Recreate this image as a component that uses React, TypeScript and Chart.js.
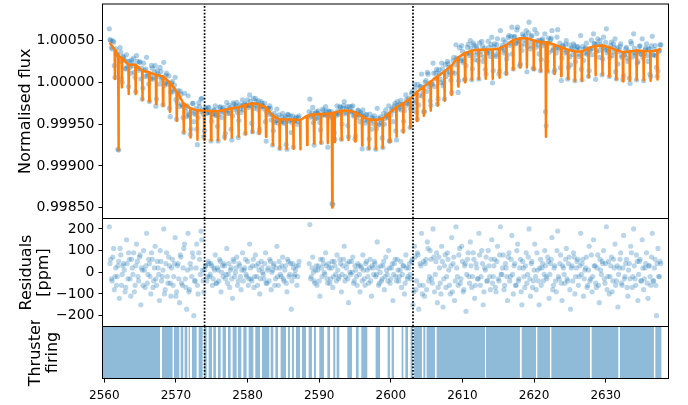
import React, { useEffect, useRef } from 'react';
import { Chart, registerables } from 'chart.js';
Chart.register(...registerables);

const FONT = "'DejaVu Sans', sans-serif";

// ---- axes / ticks ----
const X_MIN = 2559.75;
const X_MAX = 2638.77;
const xTicks = [2560, 2570, 2580, 2590, 2600, 2610, 2620, 2630];
const FLUX_MIN = 0.998372;
const FLUX_MAX = 1.000937;
const fluxTicks = [0.9985, 0.999, 0.9995, 1.0, 1.0005];
const RES_MIN = -250;
const RES_MAX = 248;
const residTicks = [-200, -100, 0, 100, 200];
const markerTimes = [2574.0, 2603.1];

// ---- observations, batch A (time in days, flux deviation and residuals in ppm) ----
const obsTimeA = [
  2560.7, 2560.9, 2561.1, 2561.3, 2561.5, 2561.7, 2561.9, 2562.1, 2562.3, 2562.5,
  2562.7, 2562.9, 2563.1, 2563.3, 2563.5, 2563.7, 2563.9, 2564.1, 2564.3, 2564.5,
  2564.7, 2564.9, 2565.1, 2565.3, 2565.5, 2565.7, 2565.9, 2566.1, 2566.3, 2566.5,
  2566.7, 2566.9, 2567.1, 2567.3, 2567.5, 2567.7, 2567.9, 2568.1, 2568.3, 2568.5,
  2568.7, 2568.9, 2569.1, 2569.3, 2569.5, 2569.7, 2569.9, 2570.1, 2570.3, 2570.5,
  2570.7, 2570.9, 2571.1, 2571.3, 2571.5, 2571.7, 2571.9, 2572.1, 2572.3, 2572.5,
  2572.7, 2572.9, 2573.1, 2573.3, 2573.5, 2573.7, 2573.9, 2574.1, 2574.3, 2574.5,
  2574.7, 2574.9, 2575.1, 2575.3, 2575.5, 2575.7, 2575.9, 2576.1, 2576.3, 2576.5,
  2576.7, 2576.9, 2577.1, 2577.3, 2577.5, 2577.7, 2577.9, 2578.1, 2578.3, 2578.5,
  2578.7, 2578.9, 2579.1, 2579.3, 2579.5, 2579.7, 2579.9, 2580.1, 2580.3, 2580.5,
  2580.7, 2580.9, 2581.1, 2581.3, 2581.5, 2581.7, 2581.9, 2582.1, 2582.3, 2582.5,
  2582.7, 2582.9, 2583.1, 2583.3, 2583.5, 2583.7, 2583.9, 2584.1, 2584.3, 2584.5,
  2584.7, 2584.9, 2585.1, 2585.3, 2585.5, 2585.7, 2585.9, 2586.1, 2586.3, 2586.5,
  2586.7, 2586.9, 2587.1, 2587.3, 2587.5, 2587.7, 2587.9, 2588.1, 2588.3, 2588.5,
  2588.7, 2588.9, 2589.1, 2589.3, 2589.5, 2589.7, 2589.9, 2590.1, 2590.3, 2590.5,
  2590.7, 2590.9, 2591.1, 2591.3, 2591.5, 2591.7, 2591.9, 2592.1, 2592.3, 2592.5,
  2592.7, 2592.9, 2593.1, 2593.3, 2593.5, 2593.7, 2593.9, 2594.1, 2594.3, 2594.5,
  2594.7, 2594.9, 2595.1, 2595.3, 2595.5, 2595.7, 2595.9, 2596.1, 2596.3, 2596.5,
  2596.7, 2596.9, 2597.1, 2597.3, 2597.5, 2597.7, 2597.9, 2598.1, 2598.3, 2598.5,
  2598.7, 2598.9, 2599.1, 2599.3, 2599.5, 2599.7, 2599.9, 2600.1, 2600.3, 2600.5,
  2600.7, 2600.9, 2601.1, 2601.3, 2601.5, 2601.7, 2601.9, 2602.1, 2602.3, 2602.5,
  2602.7, 2602.9, 2603.1, 2603.3, 2603.5, 2603.7, 2603.9, 2604.1, 2604.3, 2604.5,
  2604.7, 2604.9, 2605.1, 2605.3, 2605.5, 2605.7, 2605.9, 2606.1, 2606.3, 2606.5,
  2606.7, 2606.9, 2607.1, 2607.3, 2607.5, 2607.7, 2607.9, 2608.1, 2608.3, 2608.5,
  2608.7, 2608.9, 2609.1, 2609.3, 2609.5, 2609.7, 2609.9, 2610.1, 2610.3, 2610.5,
  2610.7, 2610.9, 2611.1, 2611.3, 2611.5, 2611.7, 2611.9, 2612.1, 2612.3, 2612.5,
  2612.7, 2612.9, 2613.1, 2613.3, 2613.5, 2613.7, 2613.9, 2614.1, 2614.3, 2614.5,
  2614.7, 2614.9, 2615.1, 2615.3, 2615.5, 2615.7, 2615.9, 2616.1, 2616.3, 2616.5,
  2616.7, 2616.9, 2617.1, 2617.3, 2617.5, 2617.7, 2617.9, 2618.1, 2618.3, 2618.5,
  2618.7, 2618.9, 2619.1, 2619.3, 2619.5, 2619.7, 2619.9, 2620.1, 2620.3, 2620.5,
  2620.7, 2620.9, 2621.1, 2621.3, 2621.5, 2621.7, 2621.9, 2622.1, 2622.3, 2622.5,
  2622.7, 2622.9, 2623.1, 2623.3, 2623.5, 2623.7, 2623.9, 2624.1, 2624.3, 2624.5,
  2624.7, 2624.9, 2625.1, 2625.3, 2625.5, 2625.7, 2625.9, 2626.1, 2626.3, 2626.5,
  2626.7, 2626.9, 2627.1, 2627.3, 2627.5, 2627.7, 2627.9, 2628.1, 2628.3, 2628.5,
  2628.7, 2628.9, 2629.1, 2629.3, 2629.5, 2629.7, 2629.9, 2630.1, 2630.3, 2630.5,
  2630.7, 2630.9, 2631.1, 2631.3, 2631.5, 2631.7, 2631.9, 2632.1, 2632.3, 2632.5,
  2632.7, 2632.9, 2633.1, 2633.3, 2633.5, 2633.7, 2633.9, 2634.1, 2634.3, 2634.5,
  2634.7, 2634.9, 2635.1, 2635.3, 2635.5, 2635.7, 2635.9, 2636.1, 2636.3, 2636.5,
  2636.7, 2636.9, 2637.1, 2637.3, 2637.5, 2637.7,
];

const obsFluxPpmA: (number | null)[] = [
  640, 500, 400, 480, 60, 330, -800, 250, 360, 0,
  300, 170, 330, 190, 250, 110, 240, 290, 60, 320,
  170, 240, 40, -200, 230, 70, 300, 110, -230, 40,
  170, 60, 200, -200, 100, -20, 130, 60, 240, -10,
  110, -20, -310, -120, 10, -80, 60, -440, -100, -290,
  -140, -280, -600, -300, -410, -160, -380, -560, -250, -470,
  -380, -560, -420, -290, -200, -330, -650, -310, -370, -300,
  -360, -700, -390, -330, -280, -390, -700, -300, -420, -320,
  -300, -610, -240, -330, -370, -560, -400, -260, -300, -240,
  -660, -270, -360, -210, -270, -610, -270, -300, -150, -280,
  -590, -310, -190, -270, -220, -560, -230, -280, -320, -470,
  -360, -310, -280, -450, -750, -370, -460, -320, -490, -790,
  -470, -370, -490, -410, -800, -390, -450, -600, -400, -460,
  -430, -500, -420, null, null, null, null, null, null, null,
  -200, -400, -300, -750, -370, -430, -340, -480, -720, -320,
  -380, -290, -400, -340, -420, -350, -1460, -600, -370, -280,
  -380, -290, -680, -310, -230, -360, -290, -650, -340, -290,
  -280, -390, -640, -420, -340, -470, -380, -330, -450, -390,
  -430, -790, -380, -560, -430, -400, -800, -310, -510, -440,
  -480, -780, -500, -330, -400, -280, -700, -330, -470, -280,
  -580, -230, -320, -260, -330, -580, -340, -150, -250, -190,
  -540, -130, -310, -20, -210, -440, -270, -50, 100, -110,
  -350, 20, 120, -50, -220, -10, 230, -50, 110, -260,
  150, 40, 230, -40, -200, 70, 250, 180, 90, -120,
  260, 110, 450, 260, 20, 260, 440, 240, 30, 200,
  420, 350, 500, 30, 470, 270, 430, 360, 40, 330,
  490, 250, 410, 100, 350, 420, 310, 540, 140, 460,
  310, 520, 100, 620, 410, 510, 380, 110, 330, 560,
  470, 660, 160, 550, 470, 660, 500, 220, 380, 550,
  460, 620, 430, 720, 400, 560, 170, 630, 420, 500,
  340, 140, 500, 440, 580, -520, 130, 360, 510, 620,
  400, 150, 350, 630, 400, 175, 290, 430, 350, 500,
  40, 450, 210, 410, 460, 20, 390, 430, 340, 560,
  30, 260, 400, 470, 350, 140, 400, 330, 580, 460,
  370, 520, 300, 450, 90, 540, 390, 640, 410, 70,
  440, 320, 460, 520, 40, 220, 390, 460, 300, 80,
  340, 420, 250, 50, 490, 300, 580, 350, 30, 250,
  430, 340, 520, 20, 390, 460, 250, 400, 70, 550,
  330, 440, 180, 135, 380, 450,
];

const obsResidPpmA: (number | null)[] = [
  210, 60, -40, 110, -20, -60, 30, -120, 80, -10,
  40, -90, 150, -30, 60, -110, 20, 90, -60, 130,
  -20, 70, -150, 10, 100, -70, 180, -10, 40, -100,
  60, -40, 120, -60, 20, -130, 50, -20, 200, -80,
  90, -50, 30, -110, 60, -20, 160, -90, 40, -140,
  70, -60, 110, -30, -170, 180, -80, 20, 90, -200,
  -40, 130, -100, 60, 190, 10, -90, 30, -40, 50,
  -20, 40, -60, 20, 80, -50, 10, 60, -90, 30,
  40, -30, 110, -10, -70, 20, -120, 50, 0, 70,
  -40, 30, -80, 90, 10, 60, -20, -60, 130, -30,
  30, -70, 80, -20, 40, -100, 50, 0, -30, 90,
  -50, 20, 60, -80, 10, 40, -30, 120, -60, 20,
  -20, 70, -40, 30, -90, 50, -10, -170, 40, -20,
  10, -60, 30, null, null, null, null, null, null, null,
  220, -20, 70, -40, 10, -60, 30, -110, 20, 60,
  0, 90, -30, 40, -50, 20, -70, 50, -10, 80,
  -30, 60, -90, 30, 120, -20, 40, -140, 0, 50,
  70, -40, 10, -60, 30, -90, 20, 80, -30, 40,
  10, -50, 60, -110, 20, 50, -20, 140, -60, 0,
  -40, 30, -80, 70, -10, 100, -50, 20, -130, 40,
  -20, 60, -40, 10, -70, 30, -100, 80, -30, 20,
  -10, 50, -150, 120, -80, 90, -170, 40, 180, -60,
  -110, 60, 140, -40, 100, -30, 200, -90, 50, -140,
  70, -50, 120, -160, 30, -70, 90, 10, -100, 160,
  40, -130, 210, -20, 80, -50, 120, -90, 30, -180,
  60, -20, 140, -70, 90, -120, 40, -30, 180, -60,
  100, -150, 20, 70, -40, 30, -80, 150, -20, 60,
  -90, 120, -40, 210, -10, 80, -60, 20, -130, 90,
  -20, 170, -100, 40, -60, 130, -30, 60, -150, 20,
  -70, 90, -10, 200, -110, 50, -40, 130, -80, 10,
  -150, 60, 20, -40, 100, -20, 70, -120, 40, 160,
  -60, 30, -90, 190, -30, 80, -130, 20, -50, 110,
  -40, 70, -170, 30, 90, -100, 20, 60, -20, 180,
  40, -110, 10, 70, -60, 120, -30, -90, 150, 30,
  -70, 80, -140, 10, 50, 100, -50, 210, -20, -100,
  30, -90, 60, 130, -40, -160, 20, 90, -60, 170,
  -20, 60, -110, 40, 120, -70, 200, -30, 80, -130,
  50, -40, 150, -80, 20, 90, -120, 30, -60, 180,
  -40, 60, -200, 110, -20, 40,
];

// ---- observations, batch B (interleaved cadence) ----
const obsTimeB = [
  2560.8, 2561.0, 2561.2, 2561.4, 2561.6, 2561.8, 2562.0, 2562.2, 2562.4, 2562.6,
  2562.8, 2563.0, 2563.2, 2563.4, 2563.6, 2563.8, 2564.0, 2564.2, 2564.4, 2564.6,
  2564.8, 2565.0, 2565.2, 2565.4, 2565.6, 2565.8, 2566.0, 2566.2, 2566.4, 2566.6,
  2566.8, 2567.0, 2567.2, 2567.4, 2567.6, 2567.8, 2568.0, 2568.2, 2568.4, 2568.6,
  2568.8, 2569.0, 2569.2, 2569.4, 2569.6, 2569.8, 2570.0, 2570.2, 2570.4, 2570.6,
  2570.8, 2571.0, 2571.2, 2571.4, 2571.6, 2571.8, 2572.0, 2572.2, 2572.4, 2572.6,
  2572.8, 2573.0, 2573.2, 2573.4, 2573.6, 2573.8, 2574.0, 2574.2, 2574.4, 2574.6,
  2574.8, 2575.0, 2575.2, 2575.4, 2575.6, 2575.8, 2576.0, 2576.2, 2576.4, 2576.6,
  2576.8, 2577.0, 2577.2, 2577.4, 2577.6, 2577.8, 2578.0, 2578.2, 2578.4, 2578.6,
  2578.8, 2579.0, 2579.2, 2579.4, 2579.6, 2579.8, 2580.0, 2580.2, 2580.4, 2580.6,
  2580.8, 2581.0, 2581.2, 2581.4, 2581.6, 2581.8, 2582.0, 2582.2, 2582.4, 2582.6,
  2582.8, 2583.0, 2583.2, 2583.4, 2583.6, 2583.8, 2584.0, 2584.2, 2584.4, 2584.6,
  2584.8, 2585.0, 2585.2, 2585.4, 2585.6, 2585.8, 2586.0, 2586.2, 2586.4, 2586.6,
  2586.8, 2587.0, 2587.2, 2587.4, 2587.6, 2587.8, 2588.0, 2588.2, 2588.4, 2588.6,
  2588.8, 2589.0, 2589.2, 2589.4, 2589.6, 2589.8, 2590.0, 2590.2, 2590.4, 2590.6,
  2590.8, 2591.0, 2591.2, 2591.4, 2591.6, 2591.8, 2592.0, 2592.2, 2592.4, 2592.6,
  2592.8, 2593.0, 2593.2, 2593.4, 2593.6, 2593.8, 2594.0, 2594.2, 2594.4, 2594.6,
  2594.8, 2595.0, 2595.2, 2595.4, 2595.6, 2595.8, 2596.0, 2596.2, 2596.4, 2596.6,
  2596.8, 2597.0, 2597.2, 2597.4, 2597.6, 2597.8, 2598.0, 2598.2, 2598.4, 2598.6,
  2598.8, 2599.0, 2599.2, 2599.4, 2599.6, 2599.8, 2600.0, 2600.2, 2600.4, 2600.6,
  2600.8, 2601.0, 2601.2, 2601.4, 2601.6, 2601.8, 2602.0, 2602.2, 2602.4, 2602.6,
  2602.8, 2603.0, 2603.2, 2603.4, 2603.6, 2603.8, 2604.0, 2604.2, 2604.4, 2604.6,
  2604.8, 2605.0, 2605.2, 2605.4, 2605.6, 2605.8, 2606.0, 2606.2, 2606.4, 2606.6,
  2606.8, 2607.0, 2607.2, 2607.4, 2607.6, 2607.8, 2608.0, 2608.2, 2608.4, 2608.6,
  2608.8, 2609.0, 2609.2, 2609.4, 2609.6, 2609.8, 2610.0, 2610.2, 2610.4, 2610.6,
  2610.8, 2611.0, 2611.2, 2611.4, 2611.6, 2611.8, 2612.0, 2612.2, 2612.4, 2612.6,
  2612.8, 2613.0, 2613.2, 2613.4, 2613.6, 2613.8, 2614.0, 2614.2, 2614.4, 2614.6,
  2614.8, 2615.0, 2615.2, 2615.4, 2615.6, 2615.8, 2616.0, 2616.2, 2616.4, 2616.6,
  2616.8, 2617.0, 2617.2, 2617.4, 2617.6, 2617.8, 2618.0, 2618.2, 2618.4, 2618.6,
  2618.8, 2619.0, 2619.2, 2619.4, 2619.6, 2619.8, 2620.0, 2620.2, 2620.4, 2620.6,
  2620.8, 2621.0, 2621.2, 2621.4, 2621.6, 2621.8, 2622.0, 2622.2, 2622.4, 2622.6,
  2622.8, 2623.0, 2623.2, 2623.4, 2623.6, 2623.8, 2624.0, 2624.2, 2624.4, 2624.6,
  2624.8, 2625.0, 2625.2, 2625.4, 2625.6, 2625.8, 2626.0, 2626.2, 2626.4, 2626.6,
  2626.8, 2627.0, 2627.2, 2627.4, 2627.6, 2627.8, 2628.0, 2628.2, 2628.4, 2628.6,
  2628.8, 2629.0, 2629.2, 2629.4, 2629.6, 2629.8, 2630.0, 2630.2, 2630.4, 2630.6,
  2630.8, 2631.0, 2631.2, 2631.4, 2631.6, 2631.8, 2632.0, 2632.2, 2632.4, 2632.6,
  2632.8, 2633.0, 2633.2, 2633.4, 2633.6, 2633.8, 2634.0, 2634.2, 2634.4, 2634.6,
  2634.8, 2635.0, 2635.2, 2635.4, 2635.6, 2635.8, 2636.0, 2636.2, 2636.4, 2636.6,
  2636.8, 2637.0, 2637.2, 2637.4, 2637.6,
];

const obsFluxPpmB: (number | null)[] = [
  510, 420, 495, 200, 400, 335, -810, 415, 45, 310,
  265, 160, 250, -50, 180, 270, 200, 120, -110, 250,
  145, 245, 170, -70, 143, 160, 76, -20, 98, 202,
  38, 122, -285, 138, 72, 178, 34, -270, -38, 85,
  5, 78, -410, -10, -110, -32, -206, -243, -185, -105,
  -265, -420, -130, -348, -282, -395, -623, -338, -252, -368,
  -312, -745, -246, -349, -190, -380, -580, -311, -362, -303,
  -354, -465, -375, -335, -395, -525, -385, -294, -342, -358,
  -652, -338, -372, -275, -301, -688, -245, -323, -281, -359,
  -457, -316, -282, -325, -255, -276, -208, -280, -226, -488,
  -191, -273, -226, -319, -602, -295, -250, -288, -250, -702,
  -310, -380, -312, -388, -578, -480, -408, -455, -390, -453,
  -413, -473, -433, -743, -383, -463, -403, -483, -773, -453,
  -416, -468, -400, null, null, null, null, null, null, -350,
  -415, -364, -482, -431, -350, -370, -420, -569, -398, -337,
  -386, -346, -775, -354, -401, -1450, -386, -683, -397, -342,
  -367, -302, -499, -277, -376, -316, -517, -289, -353, -348,
  -402, -678, -384, -331, -390, -362, -795, -410, -488, -384,
  -461, -676, -489, -420, -460, -510, -559, -427, -496, -413,
  -665, -375, -432, -385, -420, -700, -390, -308, -340, -252,
  -688, -275, -295, -215, -265, -465, -285, -205, -235, -262,
  -318, -112, -245, -65, -358, -25, -155, -52, -165, -350,
  0, -108, 98, -18, -275, -22, 110, 42, 155, -195,
  105, -2, 162, -5, 215, 128, 225, 122, 25, 120,
  300, 210, 290, -120, 415, 285, 375, 258, 40, 348,
  455, 322, 408, 163, 446, 329, 410, 260, 471, 372,
  433, 304, 154, 353, 492, 372, 452, -6, 426, 329,
  451, 373, 137, 405, 444, 352, 481, 280, 536, 440,
  550, 340, 540, 460, 627, 488, 198, 438, 578, 508,
  558, 127, 592, 484, 548, 433, 159, 477, 583, 448,
  505, 272, 521, 470, -350, 250, 529, 465, 528, 382,
  124, 408, 542, 418, 470, 22, 444, 395, 458, 362,
  178, 305, 400, 335, 441, 249, 418, 308, 398, 158,
  432, 350, 412, 335, 72, 380, 504, 408, 462, 36,
  458, 380, 500, 430, 280, 409, 477, 353, 375, 296,
  480, 364, 416, 128, 412, 368, 432, 318, 32, 330,
  400, 291, 374, -11, 463, 356, 409, 320, 230, 368,
  437, 336, 295, 343, 411, 319, 398, 98, 438, 328,
  392, 318, 72, 370, 448,
];

const obsResidPpmB: (number | null)[] = [
  40, -30, 70, -80, 20, -20, 50, 110, -60, 30,
  10, -70, 40, 90, -30, 60, -10, -90, 30, 50,
  -40, 80, 20, -60, 10, 30, -50, 60, -20, 90,
  -70, 20, -30, 50, -10, 100, -40, 10, -100, 40,
  -20, 70, -50, 20, -60, 40, -110, 30, -30, 80,
  -50, 20, 130, -70, 10, -90, 40, -20, 70, -40,
  20, -60, 90, -10, 150, -40, 10, 30, -20, 40,
  -10, 30, -30, 10, -50, 20, -40, 50, 0, -20,
  30, -10, -50, 40, 10, -30, 60, -20, 20, -60,
  40, -20, 10, -40, 20, -10, 50, -30, 20, -40,
  60, -20, 30, -60, 10, -30, 20, -10, 40, -50,
  10, -40, 50, 0, 30, -60, 20, -20, 50, -10,
  30, -30, 10, -50, 60, -20, 40, -40, 20, -10,
  30, -20, 50, null, null, null, null, null, null, 40,
  -30, 20, 0, -50, 30, 10, -40, 60, -20, 40,
  -10, 30, -50, 20, -30, 50, -20, 30, -40, 10,
  -20, 40, -10, 60, -40, 20, -30, 50, -10, 0,
  -50, 30, -20, 40, -10, 30, -40, 10, -60, 50,
  -20, 20, -40, 30, -10, 40, -10, 20, -50, 30,
  -30, 50, -20, 10, -40, 20, -30, 40, -10, 60,
  -40, 10, -20, 50, -10, 30, -50, 20, -20, 40,
  -30, 60, -90, 70, -40, 80, -60, 30, -100, 50,
  40, -80, 110, -20, 60, -50, 70, -10, 90, -70,
  20, -100, 50, -30, 80, -20, 60, -60, 30, -90,
  70, -40, 20, -60, 110, -30, 50, -80, 40, -10,
  90, -50, 30, -20, 60, -60, 20, -30, 80, -20,
  40, -90, 10, -40, 100, -20, 60, -50, 30, -70,
  50, -30, 80, -10, 20, -80, 40, -20, 70, -40,
  60, -10, 30, -60, 100, -40, 20, -90, 50, -20,
  30, -50, 70, -30, 40, -70, 10, -20, 90, -40,
  20, -60, 40, -10, 30, -30, 50, -10, 60, -80,
  20, -40, 100, -20, 40, -50, 30, -10, 60, -30,
  40, -80, 20, -40, 70, -20, 50, -60, 30, -10,
  60, -30, 20, -70, 10, -40, 80, -20, 30, -50,
  20, -60, 60, -10, 40, -30, 40, -80, 50, -20,
  70, -40, 20, -60, 30, -10, 60, -50, 20, -30,
  40, -70, 10, -30, 90, -20, 30, -60, 50, -10,
  60, -40, 20, -30, 40, -50, 30, -20, 70, -40,
  20, -60, 40, -20, 50,
];

// ---- transit model (ppm relative to 1) ----
const transitTimes = [
  2561.49, 2562.45, 2563.41, 2564.37, 2565.32, 2566.28, 2567.24, 2568.20, 2569.16, 2570.12,
  2571.08, 2572.03, 2572.99, 2573.95, 2574.91, 2575.87, 2576.83, 2577.78, 2578.74, 2579.70,
  2580.66, 2581.62, 2582.58, 2583.54, 2584.49, 2585.45, 2586.41, 2587.37, 2588.33, 2589.29,
  2590.25, 2591.20, 2592.16, 2593.12, 2594.08, 2595.04, 2596.00, 2596.95, 2597.91, 2598.87,
  2599.83, 2600.79, 2601.75, 2602.71, 2603.66, 2604.62, 2605.58, 2606.54, 2607.50, 2608.46,
  2609.41, 2610.37, 2611.33, 2612.29, 2613.25, 2614.21, 2615.17, 2616.12, 2617.08, 2618.04,
  2619.00, 2619.96, 2620.92, 2621.87, 2622.83, 2623.79, 2624.75, 2625.71, 2626.67, 2627.62,
  2628.58, 2629.54, 2630.50, 2631.46, 2632.42, 2633.37, 2634.33, 2635.29, 2636.25, 2637.21,
];
const transitBasePpm = [
  390, 290, 210, 210, 140, 120, 90, 70, 0, -110,
  -250, -310, -335, -340, -344, -345, -330, -310, -298, -270,
  -250, -262, -300, -400, -443, -443, -443, -450, -400, -382,
  -378, -375, -362, -340, -338, -358, -405, -445, -450, -432,
  -362, -298, -250, -194, -113, -48, 12, 72, 130, 200,
  300, 350, 380, 390, 394, 394, 405, 445, 505, 528,
  528, 500, 483, 480, 450, 422, 390, 370, 368, 412,
  436, 440, 420, 386, 362, 368, 380, 374, 368, 385,
];
const transitDepthPpm = 350;
const deepTransitTimes = [2561.98, 2591.82, 2621.66];
const deepTransitBasePpm = [320, -366, 480];
const deepTransitDepthPpm = 1130;
const modelStart = { t: 2560.75, v: 475 };
const modelEnd = { t: 2637.7, v: 400 };

// ---- thruster firing intervals ----
const thrusterStart = [
  2559.7, 2568.06, 2569.73, 2570.66, 2571.22, 2571.78, 2572.24, 2573.17, 2573.92, 2574.57,
  2575.22, 2575.87, 2576.52, 2577.27, 2577.92, 2578.66, 2579.41, 2580.15, 2581.08, 2582.02,
  2583.23, 2583.88, 2584.62, 2585.64, 2586.2, 2586.76, 2587.6, 2588.53, 2589.27, 2590.02,
  2591.14, 2591.97, 2592.44, 2593.93, 2595.14, 2595.88, 2597.88, 2599.56, 2600.12, 2601.51,
  2602.03, 2602.77, 2603.24, 2604.54, 2605.0, 2606.4, 2613.29, 2618.27, 2620.45, 2622.41,
  2628.04, 2632.0, 2636.93,
];
const thrusterEnd = [
  2567.78, 2569.54, 2570.47, 2571.03, 2571.59, 2571.96, 2572.9, 2573.73, 2574.29, 2575.04,
  2575.59, 2576.25, 2576.99, 2577.64, 2578.48, 2579.13, 2579.87, 2580.81, 2581.74, 2583.04,
  2583.6, 2584.25, 2585.37, 2585.92, 2586.48, 2587.32, 2588.16, 2588.99, 2589.55, 2590.67,
  2591.51, 2592.25, 2592.81, 2594.58, 2595.51, 2596.72, 2598.49, 2599.88, 2600.44, 2601.75,
  2602.4, 2603.05, 2604.35, 2604.82, 2606.17, 2613.15, 2618.03, 2620.27, 2622.22, 2627.81,
  2631.76, 2636.74, 2637.81,
];

// ---- build datasets ----
const ppmToFlux = (v: number) => 1 + v * 1e-6;

const toPoints = (times: number[], vals: (number | null)[], conv: (v: number) => number) =>
  times
    .map((t, i) => (vals[i] === null || vals[i] === undefined ? null : { x: t, y: conv(vals[i] as number) }))
    .filter(Boolean) as { x: number; y: number }[];

const fluxPoints = [
  ...toPoints(obsTimeA, obsFluxPpmA, ppmToFlux),
  ...toPoints(obsTimeB, obsFluxPpmB, ppmToFlux),
];
const residPoints = [
  ...toPoints(obsTimeA, obsResidPpmA, (v) => v),
  ...toPoints(obsTimeB, obsResidPpmB, (v) => v),
];

const modelRaw: [number, number][] = [[modelStart.t, modelStart.v], [modelEnd.t, modelEnd.v]];
transitTimes.forEach((t, i) => {
  const b = transitBasePpm[i];
  modelRaw.push([t - 0.045, b], [t, b - transitDepthPpm], [t + 0.045, b]);
});
deepTransitTimes.forEach((t, i) => {
  const b = deepTransitBasePpm[i];
  modelRaw.push([t - 0.05, b], [t, b - deepTransitDepthPpm], [t + 0.05, b]);
});
modelRaw.sort((a, b) => a[0] - b[0]);
const modelPoints = modelRaw.map(([t, v]) => ({ x: t, y: ppmToFlux(v) }));

const thrusterPoints: { x: number; y: number }[] = [];
thrusterStart.forEach((s, i) => {
  thrusterPoints.push({ x: s, y: 1 }, { x: thrusterEnd[i], y: 0 });
});

const markerDatasets = (y0: number, y1: number) =>
  markerTimes.map((t) => ({
    type: 'line' as const,
    data: [{ x: t, y: y0 }, { x: t, y: y1 }],
    borderColor: '#000',
    borderWidth: 1.7,
    borderDash: [1.7, 1.7],
    borderCapStyle: 'butt' as const,
    pointRadius: 0,
    order: 0,
  }));

const framePlugin = {
  id: 'panelFrame',
  afterDraw(chart: any) {
    const { ctx, chartArea } = chart;
    const { left, top, right, bottom } = chartArea;
    ctx.save();
    ctx.strokeStyle = '#000';
    ctx.lineWidth = 1;
    ctx.strokeRect(left, top, right - left, bottom - top);
    ctx.restore();
  },
};

const AXIS_W = 102.5;
const RIGHT_PAD = 19.5;

const fixY = (s: any) => {
  s.width = AXIS_W;
  s.paddingTop = 0;
  s.paddingBottom = 0;
};

const baseOptions = (pad: any) => ({
  animation: false as const,
  responsive: false,
  events: [] as any[],
  layout: { padding: pad },
  plugins: { legend: { display: false }, tooltip: { enabled: false } },
});

const yTitle = (text: string | string[], padTop: number, lh: number) => ({
  display: true,
  text,
  color: '#000',
  font: { family: FONT, size: 16, lineHeight: lh },
  padding: { top: padTop, bottom: 0 },
});

function makeTopConfig(): any {
  return {
    type: 'scatter',
    data: {
      datasets: [
        ...markerDatasets(FLUX_MIN, FLUX_MAX),
        {
          type: 'line',
          data: modelPoints,
          borderColor: '#ff7f0e',
          borderWidth: 2.5,
          borderJoinStyle: 'round',
          pointRadius: 0,
          tension: 0,
          order: 2,
        },
        {
          type: 'scatter',
          data: fluxPoints,
          backgroundColor: 'rgba(31,119,180,0.36)',
          borderWidth: 0,
          pointRadius: 2.6,
          clip: 0,
          order: 3,
        },
      ],
    },
    options: {
      ...baseOptions({ top: 2.5, bottom: 5.5, left: 0, right: RIGHT_PAD }),
      scales: {
        x: { type: 'linear', min: X_MIN, max: X_MAX, display: false },
        y: {
          type: 'linear',
          min: FLUX_MIN,
          max: FLUX_MAX,
          afterBuildTicks: (s: any) => { s.ticks = fluxTicks.map((v) => ({ value: v })); },
          afterFit: fixY,
          ticks: {
            callback: (v: any) => Number(v).toFixed(5),
            font: { family: FONT, size: 14 },
            color: '#000',
            padding: 4,
          },
          grid: { drawOnChartArea: false, tickLength: 4, color: '#000' },
          border: { display: false },
          title: yTitle('Normalised flux', 16.5, 1.2),
        },
      },
    },
    plugins: [framePlugin],
  };
}

function makeResidConfig(): any {
  return {
    type: 'scatter',
    data: {
      datasets: [
        ...markerDatasets(RES_MIN, RES_MAX),
        {
          type: 'scatter',
          data: residPoints,
          backgroundColor: 'rgba(31,119,180,0.3)',
          borderWidth: 0,
          pointRadius: 2.6,
          clip: 0,
          order: 3,
        },
      ],
    },
    options: {
      ...baseOptions({ top: 6.5, bottom: 5.5, left: 0, right: RIGHT_PAD }),
      scales: {
        x: { type: 'linear', min: X_MIN, max: X_MAX, display: false },
        y: {
          type: 'linear',
          min: RES_MIN,
          max: RES_MAX,
          afterBuildTicks: (s: any) => { s.ticks = residTicks.map((v) => ({ value: v })); },
          afterFit: fixY,
          ticks: {
            callback: (v: any) => (Number(v) < 0 ? '\u2212' + Math.abs(Number(v)) : String(v)),
            font: { family: FONT, size: 14 },
            color: '#000',
            padding: 4,
          },
          grid: { drawOnChartArea: false, tickLength: 4, color: '#000' },
          border: { display: false },
          title: yTitle(['Residuals', '[ppm]'], 18.4, 1.05),
        },
      },
    },
    plugins: [framePlugin],
  };
}

function makeThrusterConfig(): any {
  return {
    type: 'scatter',
    data: {
      datasets: [
        ...markerDatasets(0, 1),
        {
          type: 'line',
          data: thrusterPoints,
          stepped: true,
          fill: 'origin',
          backgroundColor: 'rgba(31,119,180,0.5)',
          borderColor: 'rgba(0,0,0,0)',
          borderWidth: 0,
          pointRadius: 0,
          order: 3,
        },
      ],
    },
    options: {
      ...baseOptions({ top: 6.5, bottom: 0, left: 0, right: RIGHT_PAD }),
      scales: {
        x: {
          type: 'linear',
          min: X_MIN,
          max: X_MAX,
          afterBuildTicks: (s: any) => { s.ticks = xTicks.map((v) => ({ value: v })); },
          afterFit: (s: any) => {
            s.height = 26.5;
            s.paddingLeft = 0;
            s.paddingRight = 0;
          },
          ticks: {
            callback: (v: any) => String(v),
            font: { family: FONT, size: 12 },
            color: '#000',
            padding: 6.5,
            maxRotation: 0,
            autoSkip: false,
          },
          grid: { drawOnChartArea: false, tickLength: 4, color: '#000' },
          border: { display: false },
        },
        y: {
          type: 'linear',
          min: 0,
          max: 1,
          afterFit: fixY,
          ticks: { display: false },
          grid: { display: false },
          border: { display: false },
          title: yTitle(['Thruster', 'firing'], 27.7, 1.05),
        },
      },
    },
    plugins: [framePlugin],
  };
}

export default function App() {
  const topRef = useRef<HTMLCanvasElement>(null);
  const midRef = useRef<HTMLCanvasElement>(null);
  const botRef = useRef<HTMLCanvasElement>(null);

  useEffect(() => {
    const charts = [
      new Chart(topRef.current as HTMLCanvasElement, makeTopConfig()),
      new Chart(midRef.current as HTMLCanvasElement, makeResidConfig()),
      new Chart(botRef.current as HTMLCanvasElement, makeThrusterConfig()),
    ];
    return () => charts.forEach((c) => c.destroy());
  }, []);

  return (
    <div
      style={{
        position: 'fixed',
        left: 0,
        top: 0,
        width: 688,
        height: 405,
        background: '#fff',
        overflow: 'hidden',
      }}
    >
      <canvas ref={topRef} width={688} height={224} style={{ position: 'absolute', left: 0, top: 0 }} />
      <canvas ref={midRef} width={688} height={120} style={{ position: 'absolute', left: 0, top: 212 }} />
      <canvas ref={botRef} width={688} height={85} style={{ position: 'absolute', left: 0, top: 320 }} />
    </div>
  );
}
